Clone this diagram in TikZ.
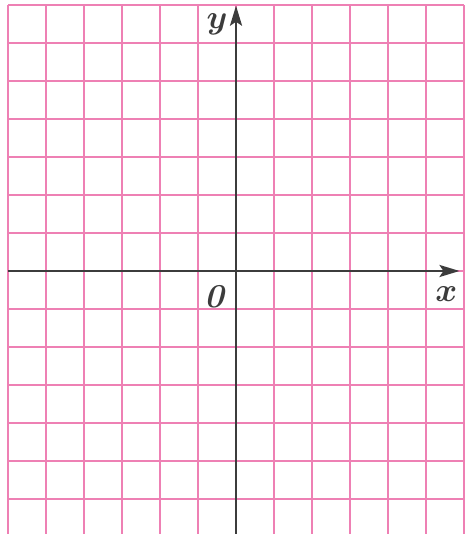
\documentclass[tikz,border=0pt]{standalone}
\usepackage{tikz}
\usetikzlibrary{arrows.meta}
\usepackage{xcolor}
\definecolor{gridpink}{RGB}{238,128,180}
\definecolor{axisgray}{RGB}{60,60,60}

\begin{document}
\begin{tikzpicture}[
    gridline/.style={gridpink, line width=0.9pt},
    axisline/.style={axisgray, line width=1.8pt, -{Stealth[length=15pt, width=9pt, inset=3pt]}},
    axislabel/.style={axisgray, font=\fontsize{25}{28}\selectfont\bfseries\itshape\boldmath}
  ]
    \useasboundingbox (-6.21,-6.92) rectangle (6.105,7.13);
    % quadriculado
    \draw[gridline] (-6,-6.92) grid (6,7);
    % eixos
    \coordinate (xstart) at (-6,0);
    \coordinate (xend) at (5.88,0);
    \coordinate (ystart) at (0,-6.92);
    \coordinate (yend) at (0,6.98);
    \draw[axisline] (xstart) -- (xend);
    \draw[axisline] (ystart) -- (yend);
    \node[axislabel] (ylab) at (-0.5,6.5) {$y$};
    \node[axislabel] (xlab) at (5.53,-0.6) {$x$};
    \node[axislabel] (orig) at (-0.58,-0.68) {0};
\end{tikzpicture}
\end{document}
